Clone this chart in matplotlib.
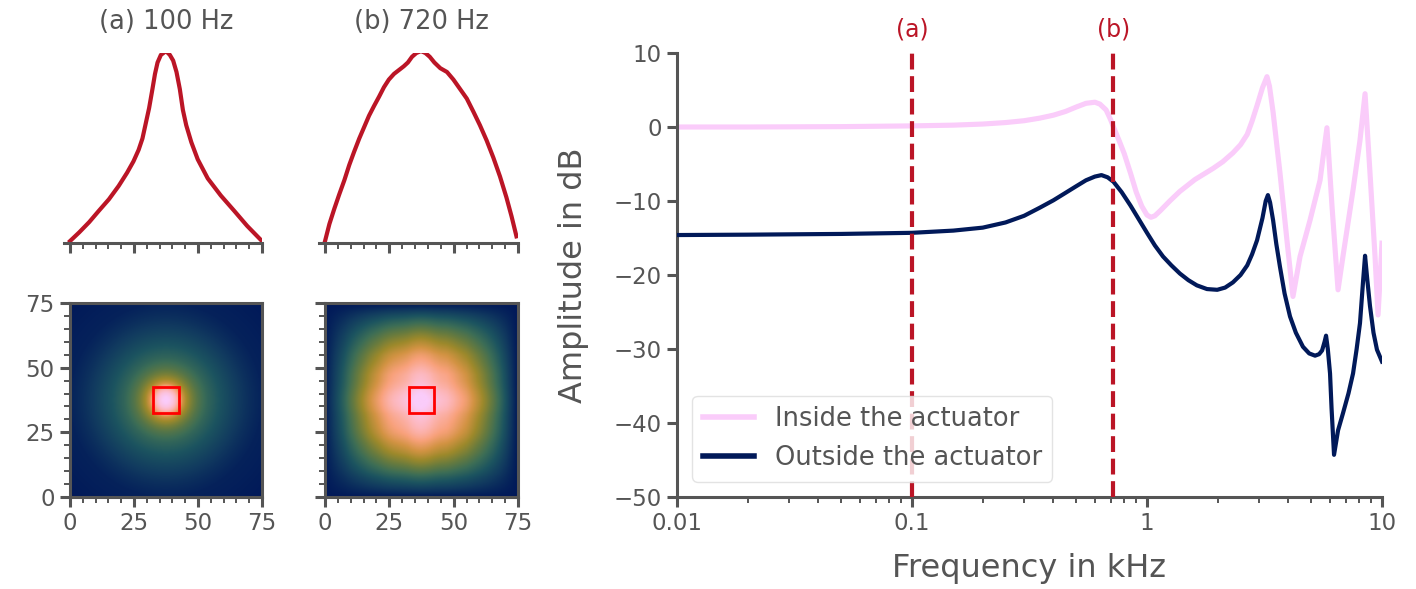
import numpy as np
import matplotlib
matplotlib.use("Agg")
import matplotlib.pyplot as plt
from matplotlib.colors import LinearSegmentedColormap
from matplotlib.ticker import FixedLocator, NullFormatter, LogLocator
from matplotlib.patches import Rectangle
from matplotlib.transforms import blended_transform_factory

# ---------------- data ----------------
# cross-section profiles (position in mm, normalised amplitude)
pos_a = [0, 3.6, 7.5, 11.3, 15.2, 19.0, 22.3, 24.8, 26.8, 28.3, 29.6, 30.9, 32.2, 33.2, 34.2, 35.5, 37.5,
         39.0, 40.3, 41.6, 42.9, 44.1, 45.4, 47.4, 49.9, 53.8, 58.9, 64.1, 69.2, 75]
amp_a = [0.01, 0.056, 0.11, 0.17, 0.23, 0.30, 0.37, 0.43, 0.49, 0.55, 0.63, 0.71, 0.81, 0.89, 0.95, 0.99, 1.01,
         0.99, 0.96, 0.90, 0.81, 0.70, 0.62, 0.53, 0.44, 0.34, 0.25, 0.17, 0.09, 0.01]

pos_b = [0, 1.7, 3.6, 5.5, 7.5, 9.4, 11.3, 13.3, 15.2, 17.1, 19.0, 21.0, 22.9, 24.8, 26.8, 28.7, 30.6, 32.2,
         33.8, 35.5, 37.3, 39.0, 40.7, 42.5, 44.8, 47.4, 49.9, 52.5, 55.1, 57.7, 60.2, 62.8, 65.4, 68.0,
         70.5, 72.5, 74.4]
amp_b = [0.01, 0.10, 0.18, 0.255, 0.33, 0.41, 0.48, 0.55, 0.61, 0.67, 0.72, 0.77, 0.82, 0.86, 0.89, 0.91, 0.93,
         0.95, 0.98, 1.0, 1.01, 1.0, 0.98, 0.95, 0.92, 0.90, 0.86, 0.81, 0.76, 0.69, 0.62, 0.54, 0.45, 0.35,
         0.24, 0.14, 0.035]

titles = ["(a) 100 Hz", "(b) 720 Hz"]
marker_freqs = [0.1, 0.72]          # kHz
marker_labels = ["(a)", "(b)"]

# frequency responses (kHz, dB)
f_in = [0.01, 0.02, 0.05, 0.1, 0.15, 0.2, 0.25, 0.3, 0.35, 0.4, 0.45, 0.5, 0.55, 0.6, 0.63, 0.67, 0.70,
        0.72, 0.76, 0.80, 0.85, 0.90, 0.95, 1.0, 1.04, 1.08, 1.14, 1.25, 1.38, 1.6, 1.91, 2.1, 2.32, 2.5,
        2.67, 2.8, 2.94, 3.1, 3.24, 3.32, 3.44, 3.68, 3.94, 4.18, 4.48, 4.94, 5.45, 5.83, 6.13, 6.50,
        6.82, 7.53, 8.06, 8.47, 8.89, 9.34, 9.62, 10.0]
db_in = [0.0, 0.0, 0.05, 0.15, 0.25, 0.4, 0.6, 0.85, 1.2, 1.6, 2.1, 2.7, 3.2, 3.35, 3.1, 2.3, 1.0,
         0.0, -1.8, -3.6, -6.2, -8.8, -10.7, -11.9, -12.2, -12.0, -11.3, -10.0, -8.7, -7.1, -5.6, -4.7, -3.5, -2.4,
         -1.0, 0.8, 2.9, 5.3, 6.8, 5.5, 2.0, -6.2, -15.3, -22.9, -17.5, -12.6, -7.2, -0.1, -10.8, -22.0,
         -17.5, -8.5, -1.8, 4.5, -6.2, -17.5, -25.4, -15.7]

f_out = [0.01, 0.02, 0.05, 0.1, 0.15, 0.2, 0.25, 0.3, 0.35, 0.4, 0.45, 0.5, 0.55, 0.6, 0.64, 0.68, 0.72,
         0.78, 0.85, 0.92, 1.0, 1.08, 1.17, 1.27, 1.38, 1.5, 1.63, 1.8, 1.99, 2.15, 2.32, 2.5, 2.67, 2.8,
         2.94, 3.1, 3.2, 3.27, 3.34, 3.44, 3.55, 3.68, 3.85, 4.06, 4.3, 4.61, 4.9, 5.19, 5.4, 5.56, 5.7,
         5.78, 5.88, 6.01, 6.1, 6.25, 6.5, 6.82, 7.2, 7.53, 7.8, 8.06, 8.3, 8.47, 8.65, 8.89, 9.2, 9.52, 10.0]
db_out = [-14.6, -14.55, -14.45, -14.3, -14.0, -13.6, -12.9, -12.0, -10.9, -9.9, -8.9, -8.0, -7.2, -6.7, -6.5,
          -6.8, -7.4, -8.8, -10.6, -12.4, -14.3, -16.0, -17.5, -18.7, -19.8, -20.7, -21.4, -21.9, -22.0, -21.7,
          -21.0, -20.0, -18.7, -17.2, -15.3, -12.3, -10.0, -9.2, -10.2, -12.6, -15.8, -18.9, -22.5, -25.6,
          -27.8, -29.7, -30.6, -30.9, -30.7, -30.2, -29.0, -28.2, -30.0, -33.3, -38.0, -44.3, -41.0, -38.7,
          -36.0, -33.3, -30.0, -26.5, -21.0, -17.4, -20.5, -24.2, -27.8, -30.1, -31.7]

series_labels = ["Inside the actuator", "Outside the actuator"]

# ---------------- style ----------------
batlow = LinearSegmentedColormap.from_list(
    "batlow", ['#011959', '#10385F', '#1C5460', '#3C6D56', '#687B3E', '#9D892B',
               '#D29343', '#F8A17B', '#FDB7BC', '#FACCFA'])
GREY = "#555555"
RED = "#bb1526"
PINK = "#FACCFA"
NAVY = "#011959"

plt.rcParams.update({
    "font.family": ["DejaVu Sans"],
    "text.color": GREY,
    "axes.labelcolor": GREY,
    "xtick.color": GREY,
    "ytick.color": GREY,
    "axes.edgecolor": GREY,
    "axes.linewidth": 2.2,
    "xtick.major.width": 2.2, "ytick.major.width": 2.2,
    "xtick.minor.width": 1.4, "ytick.minor.width": 1.4,
    "xtick.major.size": 7.5, "ytick.major.size": 7.5,
    "xtick.minor.size": 4.5, "ytick.minor.size": 4.5,
    "xtick.labelsize": 16.5, "ytick.labelsize": 16.5,
})

W, H = 1416, 589
fig = plt.figure(figsize=(W / 100, H / 100), dpi=100)


def px_rect(x0, y0, x1, y1):
    return [x0 / W, 1 - y1 / H, (x1 - x0) / W, (y1 - y0) / H]


# ---------- profile panels ----------
prof = [(pos_a, amp_a), (pos_b, amp_b)]
prof_px = [(63.6, 53, 262, 243), (318.6, 53, 518, 243)]
for i, ((px_, amp), rect) in enumerate(zip(prof, prof_px)):
    ax = fig.add_axes(px_rect(*rect))
    ax.plot(px_, amp, color=RED, lw=3.0, solid_joinstyle="round")
    ax.set_xlim(-2.5, 75)
    ax.set_ylim(0, 1.0)
    for s in ["top", "right", "left"]:
        ax.spines[s].set_visible(False)
    ax.set_yticks([])
    ax.xaxis.set_major_locator(FixedLocator([0, 25, 50, 75]))
    ax.xaxis.set_minor_locator(FixedLocator([v for v in range(5, 75, 5) if v % 25]))
    ax.tick_params(axis="x", which="both", labelbottom=False)
    ax.set_facecolor("none")
    xc = rect[0] + (rect[2] - rect[0]) * 40.0 / 77.5
    fig.text(xc / W, 1 - 22 / H, titles[i], ha="center", va="center", fontsize=18.5, color=GREY)

# ---------- heat maps (built from the profiles above) ----------
grid = np.linspace(0, 75, 301)
X, Y = np.meshgrid(grid, grid)
R = np.sqrt((X - 37.5) ** 2 + (Y - 37.5) ** 2)
right_a = [(p, a) for p, a in zip(pos_a, amp_a) if p >= 37.5]
pa_r = np.interp(37.5 + R, [p for p, _ in right_a], [a for _, a in right_a], right=0.0)
Za = 0.88 * pa_r ** 1.3 + 0.12 * np.clip(1 - R / 53.0, 0, 1)
Zb = (np.interp(X, pos_b, amp_b) * np.interp(Y, pos_b, amp_b)) ** 1.1

heat_px = [(70, 303, 262, 497), (325, 303, 518, 497)]
for i, (Z, rect) in enumerate(zip([Za, Zb], heat_px)):
    ax = fig.add_axes(px_rect(*rect))
    ax.imshow(Z, origin="lower", extent=[0, 75, 0, 75], cmap=batlow, vmin=0, vmax=1.0,
              aspect="auto", interpolation="bilinear")
    ax.add_patch(Rectangle((32.5, 32.5), 10, 10, fill=False, edgecolor="#ff0000", lw=2.0))
    ax.set_xlim(0, 75)
    ax.set_ylim(0, 75)
    for axis in (ax.xaxis, ax.yaxis):
        axis.set_major_locator(FixedLocator([0, 25, 50, 75]))
        axis.set_minor_locator(FixedLocator([v for v in range(5, 75, 5) if v % 25]))
    if i == 1:
        ax.tick_params(axis="y", labelleft=False)

# ---------- frequency response ----------
ax = fig.add_axes(px_rect(677, 53, 1382, 497))
l1, = ax.plot(f_in, db_in, color=PINK, lw=3.7, label=series_labels[0], zorder=2,
              solid_joinstyle="round")
l2, = ax.plot(f_out, db_out, color=NAVY, lw=3.0, label=series_labels[1], zorder=3,
              solid_joinstyle="round")
ax.set_xscale("log")
ax.set_xlim(0.01, 10)
ax.set_ylim(-50, 10)
ax.set_yticks(np.arange(-50, 11, 10))
ax.set_xticks([0.01, 0.1, 1, 10])
ax.set_xticklabels(["0.01", "0.1", "1", "10"])
ax.xaxis.set_minor_locator(LogLocator(base=10, subs=np.arange(2, 10)))
ax.xaxis.set_minor_formatter(NullFormatter())
ax.tick_params(axis="y", which="minor", left=False)
for s in ["top", "right"]:
    ax.spines[s].set_visible(False)
tr = blended_transform_factory(ax.transData, fig.transFigure)
for fq, lab in zip(marker_freqs, marker_labels):
    ax.axvline(fq, color=RED, lw=3.0, dashes=(3.8, 1.6), zorder=4)
    ax.text(fq, 1 - 30 / H, lab, transform=tr, ha="center", va="center", color=RED, fontsize=17)
ax.set_xlabel("Frequency in kHz", fontsize=23)
ax.set_ylabel("Amplitude in dB", fontsize=23)
ax.xaxis.set_label_coords(0.5, -0.125)
ax.yaxis.set_label_coords(-0.125, 0.5)
leg = ax.legend(handles=[l1, l2], loc="lower left", fontsize=18.5, frameon=True, framealpha=0.8,
                handlelength=2.0, borderaxespad=0.6)
leg.get_frame().set_edgecolor("#dddddd")
leg.get_frame().set_linewidth(1.0)
for t in leg.get_texts():
    t.set_color(GREY)
for lh in leg.get_lines():
    lh.set_linewidth(4.0)

fig.savefig("out.png", dpi=100)
